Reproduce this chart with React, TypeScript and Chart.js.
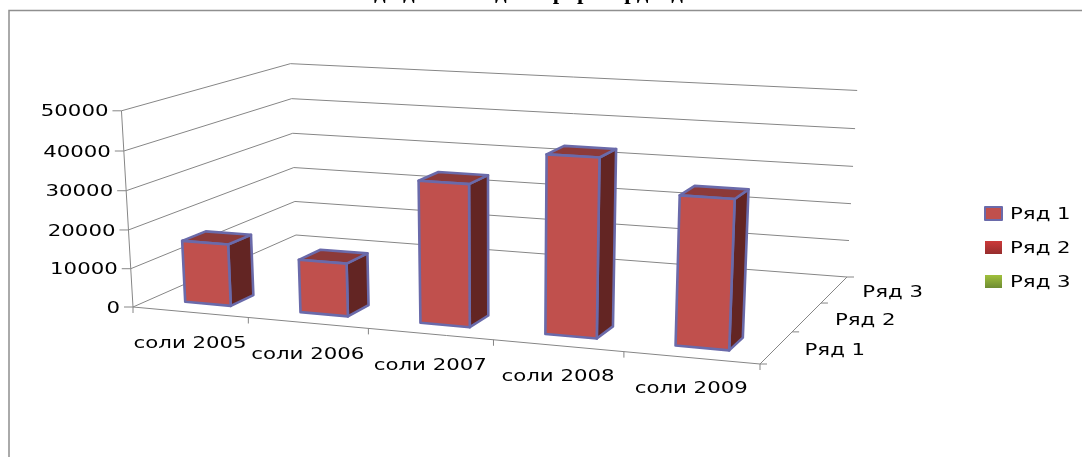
import React, { useEffect, useRef } from "react";
import { Chart, registerables } from "chart.js";

Chart.register(...registerables);

const categories = ["соли 2005", "соли 2006", "соли 2007", "соли 2008", "соли 2009"];
const series1 = [16000, 13500, 35500, 43800, 36100];
const series2: (number | null)[] = [null, null, null, null, null];
const series3: (number | null)[] = [null, null, null, null, null];
const seriesNames = ["Ряд 1", "Ряд 2", "Ряд 3"];
const titleText = "д   д              д        р  р      рд    д";

const W = 1082;
const H = 457;
const FONT = "16px 'DejaVu Sans'";
const STRETCH = 1.33;
const AXIS = "#868686";
const BORDER = "#6a6aaa";
const FRONT = "#c0504d";
const TOP = "#8c3a39";
const SIDE = "#632523";

// perspective frame of the 3D plot box: [x, y] on the page
const floorFL = [133, 307];
const floorFR = [760, 364];
const floorBR = [847, 277];
const floorBL = [296, 235];
const topFL = [121, 111];
const topBL = [291, 63];
const topBR = [857, 91];

type P = [number, number];

function makeProjection() {
  const [x0, y0] = floorFL, [x1, y1] = floorFR, [x2, y2] = floorBR, [x3, y3] = floorBL;
  const dx1 = x1 - x2, dx2 = x3 - x2, dx3 = x0 - x1 + x2 - x3;
  const dy1 = y1 - y2, dy2 = y3 - y2, dy3 = y0 - y1 + y2 - y3;
  const den = dx1 * dy2 - dx2 * dy1;
  const g = (dx3 * dy2 - dx2 * dy3) / den;
  const h = (dx1 * dy3 - dx3 * dy1) / den;
  const a = x1 - x0 + g * x1, b = x3 - x0 + h * x3, c = x0;
  const d = y1 - y0 + g * y1, e = y3 - y0 + h * y3, f = y0;
  // height column, least squares against the three known top corners
  const targets: [number, number, number, number][] = [
    [0, 0, topFL[0], topFL[1]],
    [0, 1, topBL[0], topBL[1]],
    [1, 1, topBR[0], topBR[1]],
  ];
  const rows: number[][] = [];
  for (const [u, z, X, Y] of targets) {
    const w = g * u + h * z + 1;
    rows.push([1, 0, -X, X * w - (a * u + b * z + c)]);
    rows.push([0, 1, -Y, Y * w - (d * u + e * z + f)]);
  }
  const M = [0, 1, 2].map((i) =>
    [0, 1, 2, 3].map((j) => rows.reduce((s, r) => s + r[i] * r[j], 0))
  );
  for (let i = 0; i < 3; i++) {
    for (let k = 0; k < 3; k++) {
      if (k === i) continue;
      const m = M[k][i] / M[i][i];
      for (let j = 0; j < 4; j++) M[k][j] -= m * M[i][j];
    }
  }
  const c1 = M[0][3] / M[0][0], c2 = M[1][3] / M[1][1], c3 = M[2][3] / M[2][2];
  return (u: number, z: number, v: number): P => {
    const w = g * u + h * z + c3 * v + 1;
    return [(a * u + b * z + c1 * v + c) / w, (d * u + e * z + c2 * v + f) / w];
  };
}
const project = makeProjection();

function line(ctx: CanvasRenderingContext2D, pts: P[]) {
  ctx.beginPath();
  pts.forEach((p, i) => (i ? ctx.lineTo(p[0], p[1]) : ctx.moveTo(p[0], p[1])));
  ctx.stroke();
}
function face(ctx: CanvasRenderingContext2D, pts: P[], fill: string) {
  ctx.beginPath();
  pts.forEach((p, i) => (i ? ctx.lineTo(p[0], p[1]) : ctx.moveTo(p[0], p[1])));
  ctx.closePath();
  ctx.fillStyle = fill;
  ctx.fill();
  ctx.stroke();
}
function label(
  ctx: CanvasRenderingContext2D,
  text: string,
  x: number,
  y: number,
  align: CanvasTextAlign
) {
  ctx.save();
  ctx.font = FONT;
  ctx.fillStyle = "#000";
  ctx.textBaseline = "middle";
  ctx.textAlign = align;
  ctx.translate(x, y + 1.5);
  ctx.scale(STRETCH, 1);
  ctx.fillText(text, 0, 0);
  ctx.restore();
}

const box3d = {
  id: "box3d",
  beforeDatasetsDraw(chart: any) {
    const { ctx, chartArea: area, scales } = chart;
    const U = (px: number) => (px - area.left) / (area.right - area.left);
    const V = (py: number) => (area.bottom - py) / (area.bottom - area.top);
    const rows = chart.data.datasets.length;

    ctx.save();
    // frame of the chart, running off the right and bottom of the picture
    ctx.strokeStyle = "#8f8f8f";
    ctx.lineWidth = 1.5;
    ctx.strokeRect(9, 10.5, W + 20, H + 20);

    // title, cut by the top of the picture
    ctx.fillStyle = "#000";
    ctx.font = "bold 23px 'Liberation Serif'";
    ctx.textAlign = "left";
    ctx.textBaseline = "alphabetic";
    ctx.fillText(titleText, 374, -1.5);

    // walls and floor
    ctx.strokeStyle = AXIS;
    ctx.lineWidth = 1;
    for (const t of scales.y.ticks) {
      const v = V(scales.y.getPixelForValue(t.value));
      line(ctx, [project(0, 0, v), project(0, 1, v), project(1, 1, v)]);
      const p = project(0, 0, v);
      line(ctx, [p, [p[0] - 9, p[1]]]);
      label(ctx, String(t.value), p[0] - 13, p[1], "right");
    }
    line(ctx, [project(0, 0, 0), project(0, 0, 1)]);
    line(ctx, [project(0, 0, 0), project(1, 0, 0), project(1, 1, 0)]);

    // category axis ticks and labels
    const n = categories.length;
    for (let i = 0; i <= n; i++) {
      const p = project(i / n, 0, 0);
      line(ctx, [p, [p[0], p[1] + 6]]);
    }
    scales.x.ticks.forEach((_t: any, i: number) => {
      const p = project(U(scales.x.getPixelForTick(i)), 0, 0);
      label(ctx, scales.x.getLabelForValue(i), p[0], p[1] + 30, "center");
    });

    // depth axis ticks and labels
    for (let i = 0; i <= rows; i++) {
      const p = project(1, i / rows, 0);
      line(ctx, [p, [p[0] + 7, p[1]]]);
    }
    chart.data.datasets.forEach((ds: any, i: number) => {
      const p = project(1, (i + 0.5) / rows, 0);
      label(ctx, ds.label, p[0] + 28, p[1] + 2, "left");
    });

    // bars: each element's place comes from the chart's scales
    ctx.strokeStyle = BORDER;
    ctx.lineWidth = 2.6;
    ctx.lineJoin = "round";
    chart.data.datasets.forEach((ds: any, i: number) => {
      chart.getDatasetMeta(i).data.forEach((el: any, j: number) => {
        if (ds.data[j] == null) return;
        const u0 = U(el.x - el.width / 2), u1 = U(el.x + el.width / 2);
        const v0 = V(el.base), v1 = V(el.y);
        const z0 = (i + 0.3) / rows, z1 = (i + 0.7) / rows;
        const a = project(u0, z0, v0), b = project(u1, z0, v0);
        const c = project(u1, z0, v1), d = project(u0, z0, v1);
        const e = project(u1, z1, v0), f = project(u1, z1, v1), k = project(u0, z1, v1);
        face(ctx, [b, e, f, c], SIDE);
        face(ctx, [d, c, f, k], TOP);
        face(ctx, [a, b, c, d], FRONT);
      });
    });

    // legend
    const swatches = [
      [FRONT, FRONT],
      ["#cc3a3a", "#962d2d"],
      ["#a0c03c", "#6e8c32"],
    ];
    chart.data.datasets.forEach((ds: any, i: number) => {
      const y = 207 + i * 34;
      const grad = ctx.createLinearGradient(0, y, 0, y + 13);
      grad.addColorStop(0, swatches[i][0]);
      grad.addColorStop(1, swatches[i][1]);
      ctx.fillStyle = grad;
      ctx.fillRect(985, y, 17, 13);
      if (i === 0) {
        ctx.strokeStyle = BORDER;
        ctx.lineWidth = 2;
        ctx.strokeRect(985, y, 17, 13);
      }
      label(ctx, ds.label, 1010, y + 6.5, "left");
    });
    ctx.restore();
    return false;
  },
};

export default function App() {
  const ref = useRef<HTMLCanvasElement>(null);
  useEffect(() => {
    const chart = new Chart(ref.current as HTMLCanvasElement, {
      type: "bar",
      data: {
        labels: categories,
        datasets: [
          { label: seriesNames[0], data: series1 },
          { label: seriesNames[1], data: series2 },
          { label: seriesNames[2], data: series3 },
        ],
      },
      options: {
        responsive: false,
        animation: false,
        devicePixelRatio: 1,
        layout: { padding: { left: floorFL[0], right: W - floorFR[0], top: topFL[1], bottom: H - floorFL[1] } },
        grouped: false,
        barPercentage: 0.4,
        categoryPercentage: 1,
        plugins: { legend: { display: false }, tooltip: { enabled: false } },
        scales: {
          x: { display: false },
          y: { display: false, min: 0, max: 50000, ticks: { stepSize: 10000 } },
        },
      } as any,
      plugins: [box3d as any],
    });
    return () => chart.destroy();
  }, []);
  return (
    <div style={{ position: "absolute", left: 0, top: 0, width: W, height: H, overflow: "hidden", background: "#fff" }}>
      <canvas ref={ref} width={W} height={H} style={{ display: "block" }} />
    </div>
  );
}
